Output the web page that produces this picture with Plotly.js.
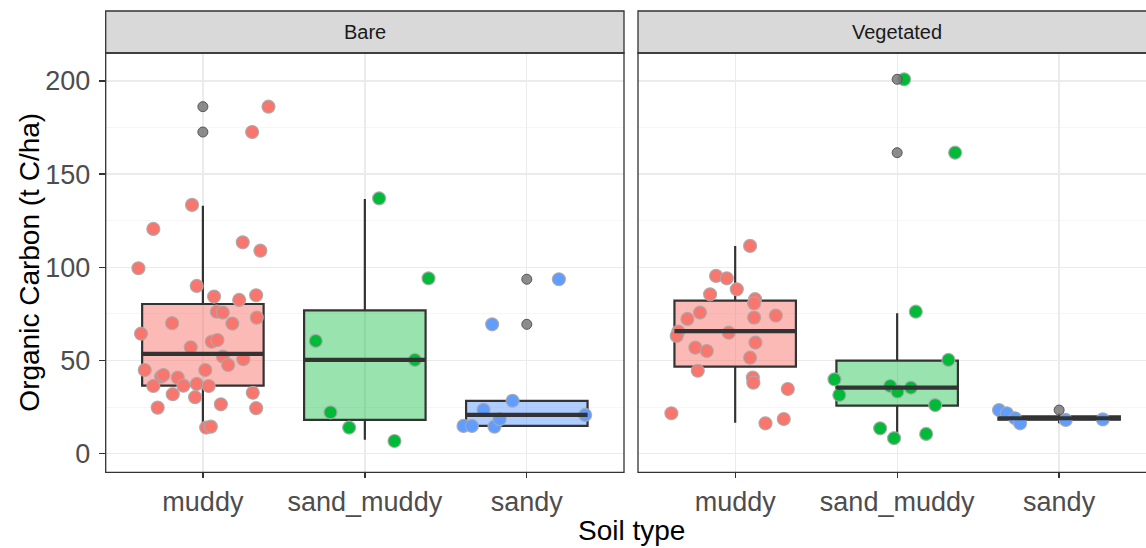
<!DOCTYPE html>
<html>
<head>
<meta charset="utf-8">
<script src="https://cdn.plot.ly/plotly-3.0.1.min.js"></script>
<style>html,body{margin:0;padding:0;background:#fff;overflow:hidden}#chart{width:1146px;height:548px}</style>
</head>
<body>
<div id="chart"></div>
<script>
// ---------- data ----------
const categories = ['muddy', 'sand_muddy', 'sandy'];
const facets = ['Bare', 'Vegetated'];
const yTickVals = [0, 50, 100, 150, 200];

// Bare facet: jittered observations (value, horizontal jitter in category units)
const bareMuddyVals = [186.2,172.6,133.5,120.6,113.4,108.9,99.5,90.0,84.3,82.5,85.0,76.2,75.7,70.0,69.8,73.0,64.4,60.1,61.0,57.1,52.1,47.6,50.7,44.9,41.3,42.2,40.8,44.9,36.3,36.5,37.4,36.3,31.9,30.3,32.7,24.7,26.5,24.4,14.0,14.5];
const bareMuddyJit  = [0.405,0.304,-0.067,-0.306,0.246,0.355,-0.398,-0.038,0.069,0.224,0.329,0.086,0.123,-0.190,0.182,0.333,-0.382,0.055,0.090,-0.075,0.123,0.156,0.250,-0.359,-0.258,-0.244,-0.155,0.015,-0.306,-0.120,-0.038,0.036,-0.186,-0.048,0.308,-0.279,0.111,0.329,0.020,0.049];
const bareSandMuddyVals = [137.0,94.1,60.5,50.3,22.2,14.0,6.8];
const bareSandMuddyJit  = [0.088,0.393,-0.303,0.309,-0.212,-0.097,0.183];
const bareSandyVals = [93.6,69.4,28.4,23.5,14.9,14.9,14.5,18.5,20.8];
const bareSandyJit  = [0.198,-0.214,-0.088,-0.267,-0.391,-0.339,-0.200,-0.168,0.360];

// Vegetated facet
const vegMuddyVals = [111.5,95.4,94.1,88.2,85.5,82.9,80.7,75.7,72.3,73.0,74.1,65.5,63.2,64.9,59.6,56.9,55.1,51.5,44.5,40.8,38.1,34.7,21.7,18.6,16.3];
const vegMuddyJit  = [0.092,-0.118,-0.052,0.010,-0.155,0.123,0.117,-0.217,-0.295,0.117,0.251,-0.351,-0.361,-0.040,0.125,-0.246,-0.175,0.092,-0.231,0.109,0.112,0.325,-0.394,0.300,0.187];
const vegSandMuddyVals = [200.9,161.5,76.2,50.3,39.9,31.5,36.3,33.3,35.4,26.1,13.6,8.3,10.6];
const vegSandMuddyJit  = [0.043,0.358,0.115,0.317,-0.387,-0.357,-0.043,0.002,0.085,0.235,-0.105,-0.019,0.179];
const vegSandyVals = [23.4,21.7,19.0,16.3,18.1,18.4];
const vegSandyJit  = [-0.371,-0.323,-0.272,-0.241,0.041,0.270];

// Box statistics per category (muddy, sand_muddy, sandy)
const bareQ1 = [36.5, 18.1, 14.9];
const bareMedian = [53.5, 50.3, 20.8];
const bareQ3 = [80.3, 76.9, 28.3];
const bareLowerFence = [14.5, 7.4, 14.9];
const bareUpperFence = [133.1, 136.7, 28.3];
const bareOutlierCat = ['muddy', 'muddy', 'sandy', 'sandy'];
const bareOutlierVals = [186.2, 172.6, 93.6, 69.4];

const vegQ1 = [46.7, 25.8, 18.2];
const vegMedian = [65.8, 35.4, 19.0];
const vegQ3 = [82.1, 49.9, 20.0];
const vegLowerFence = [16.6, 8.2, 16.3];
const vegUpperFence = [111.5, 75.3, 21.7];
const vegOutlierCat = ['sand_muddy', 'sand_muddy', 'sandy'];
const vegOutlierVals = [200.9, 161.5, 23.4];

// ---------- styling ----------
const colors = ['#F8766D', '#00BA38', '#619CFF'];
const boxFills = ['rgba(248,118,109,0.5)', 'rgba(0,186,56,0.4)', 'rgba(97,156,255,0.5)'];
const FONT = 'Liberation Sans, Arial, Helvetica, sans-serif';
const BOXW = 0.75;

const W = 1146, H = 548;
const panelTop = 53, panelBottom = 472.3, stripTop = 11;
const p1L = 105.7, p1R = 624, p2L = 638;
const unit = (p1R - p1L) / 3.2;
const px = v => v / W, py = v => (H - v) / H;

function catIndex(c) { return categories.indexOf(c) + 1; }

function facetTraces(ax, groups, q1, med, q3, lo, hi, outCat, outVals) {
  const xa = 'x' + (ax === 1 ? '' : ax), ya = 'y' + (ax === 1 ? '' : ax);
  const t = [];
  groups.forEach((g, i) => {
    const c = i + 1;
    t.push({type: 'scatter', mode: 'markers', xaxis: xa, yaxis: ya, hoverinfo: 'y',
      x: g.jit.map(j => c + j), y: g.vals,
      marker: {color: colors[i], size: 13, line: {color: 'rgba(170,170,170,0.9)', width: 1.2}}});
  });
  groups.forEach((g, i) => {
    const c = i + 1;
    t.push({type: 'box', xaxis: xa, yaxis: ya, x: [c], q1: [q1[i]], median: [med[i]], q3: [q3[i]],
      lowerfence: [lo[i]], upperfence: [hi[i]], width: BOXW, whiskerwidth: 0, boxpoints: false,
      fillcolor: boxFills[i], line: {color: '#333333', width: 2.2}, hoverinfo: 'skip'});
    t.push({type: 'scatter', mode: 'lines', xaxis: xa, yaxis: ya, hoverinfo: 'skip',
      x: [c - BOXW / 2, c + BOXW / 2], y: [med[i], med[i]],
      line: {color: '#333333', width: 4.2}});
  });
  t.push({type: 'scatter', mode: 'markers', xaxis: xa, yaxis: ya, hoverinfo: 'y',
    x: outCat.map(catIndex), y: outVals,
    marker: {color: 'rgba(120,120,120,0.85)', size: 10, line: {color: '#555555', width: 1}}});
  return t;
}

const traces = [].concat(
  facetTraces(1,
    [{vals: bareMuddyVals, jit: bareMuddyJit}, {vals: bareSandMuddyVals, jit: bareSandMuddyJit}, {vals: bareSandyVals, jit: bareSandyJit}],
    bareQ1, bareMedian, bareQ3, bareLowerFence, bareUpperFence, bareOutlierCat, bareOutlierVals),
  facetTraces(2,
    [{vals: vegMuddyVals, jit: vegMuddyJit}, {vals: vegSandMuddyVals, jit: vegSandMuddyJit}, {vals: vegSandyVals, jit: vegSandyJit}],
    vegQ1, vegMedian, vegQ3, vegLowerFence, vegUpperFence, vegOutlierCat, vegOutlierVals)
);

const catTicks = categories.map((c, i) => i + 1);

function xAxis(dom, range, anchor) {
  return {domain: dom, range: range, anchor: anchor, fixedrange: true,
    tickvals: catTicks, ticktext: categories, ticks: 'outside', ticklen: 5, tickwidth: 1.3, tickcolor: '#333333',
    tickfont: {family: FONT, size: 27, color: '#4D4D4D'},
    showgrid: true, gridcolor: '#EBEBEB', gridwidth: 1.3, zeroline: false, showline: false};
}
function yAxis(dom, anchor, labels) {
  return {domain: dom, range: [-10, 215], anchor: anchor, fixedrange: true,
    tickvals: yTickVals, showticklabels: labels, ticks: labels ? 'outside' : '', ticklen: 6, tickwidth: 1.3, tickcolor: '#333333',
    tickfont: {family: FONT, size: 27, color: '#4D4D4D'}, ticklabelstandoff: 3,
    showgrid: true, gridcolor: '#EBEBEB', gridwidth: 1.3, zeroline: false, showline: false,
    minor: {dtick: 25, tick0: 0, showgrid: true, gridcolor: '#F4F4F4', gridwidth: 0.8, ticks: ''}};
}

const yDom = [py(panelBottom), py(panelTop)];
const stripY = [py(panelTop), py(stripTop)];
const p2RangeMax = 0.4 + (W - p2L) / unit;

const borderLine = {color: '#333333', width: 1.3};
const shapes = [
  {type: 'rect', xref: 'paper', yref: 'paper', x0: px(p1L), x1: px(p1R), y0: stripY[0], y1: stripY[1], fillcolor: '#D9D9D9', line: borderLine, layer: 'above'},
  {type: 'rect', xref: 'paper', yref: 'paper', x0: px(p2L), x1: px(p2L + 3.2 * unit), y0: stripY[0], y1: stripY[1], fillcolor: '#D9D9D9', line: borderLine, layer: 'above'},
  {type: 'rect', xref: 'paper', yref: 'paper', x0: px(p1L), x1: px(p1R), y0: yDom[0], y1: yDom[1], fillcolor: 'rgba(0,0,0,0)', line: borderLine, layer: 'above'},
  {type: 'rect', xref: 'paper', yref: 'paper', x0: px(p2L), x1: px(p2L + 3.2 * unit), y0: yDom[0], y1: yDom[1], fillcolor: 'rgba(0,0,0,0)', line: borderLine, layer: 'above'}
];

const annotations = [
  {text: facets[0], xref: 'paper', yref: 'paper', x: px((p1L + p1R) / 2), y: (stripY[0] + stripY[1]) / 2, showarrow: false,
    font: {family: FONT, size: 20, color: '#1A1A1A'}, xanchor: 'center', yanchor: 'middle'},
  {text: facets[1], xref: 'paper', yref: 'paper', x: px(p2L + 1.6 * unit), y: (stripY[0] + stripY[1]) / 2, showarrow: false,
    font: {family: FONT, size: 20, color: '#1A1A1A'}, xanchor: 'center', yanchor: 'middle'},
  {text: 'Organic Carbon (t C/ha)', xref: 'paper', yref: 'paper', x: px(30), y: py((panelTop + panelBottom) / 2), showarrow: false,
    textangle: -90, font: {family: FONT, size: 28, color: '#000000'}, xanchor: 'center', yanchor: 'middle'},
  {text: 'Soil type', xref: 'paper', yref: 'paper', x: px((p1L + p2L + 3.2 * unit) / 2), y: py(530), showarrow: false,
    font: {family: FONT, size: 28, color: '#000000'}, xanchor: 'center', yanchor: 'middle'}
];

const layout = {
  width: W, height: H, margin: {l: 0, r: 0, t: 0, b: 0},
  paper_bgcolor: '#FFFFFF', plot_bgcolor: '#FFFFFF',
  showlegend: false, boxmode: 'overlay',
  font: {family: FONT},
  xaxis: xAxis([px(p1L), px(p1R)], [0.4, 3.6], 'y'),
  xaxis2: xAxis([px(p2L), 1], [0.4, p2RangeMax], 'y2'),
  yaxis: yAxis(yDom, 'x', true),
  yaxis2: yAxis(yDom, 'x2', false),
  shapes: shapes,
  annotations: annotations
};

Plotly.newPlot('chart', traces, layout, {displayModeBar: false, staticPlot: true});
</script>
</body>
</html>
